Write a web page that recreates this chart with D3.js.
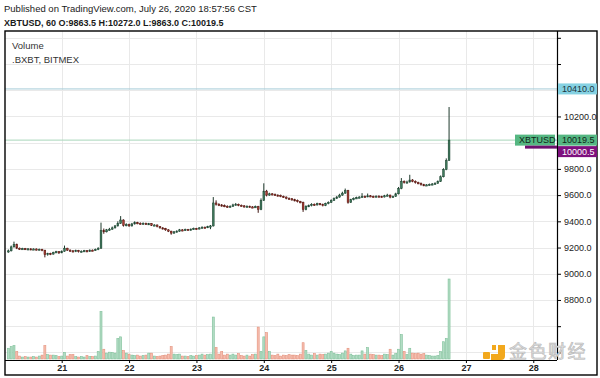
<!DOCTYPE html>
<html>
<head>
<meta charset="utf-8">
<script src="https://cdn.jsdelivr.net/npm/d3@7"></script>
<style>
  body { margin: 0; background: #fff; }
  svg text { font-family: "Liberation Sans", Arial, sans-serif; }
</style>
</head>
<body>
<div id="chart"></div>
<script>
// XBTUSD 1h candles, Jul 20 05:00 -> Jul 26 18:00
var firstOpen = 9170;
var closes = [9175,9205,9225,9195,9190,9192,9188,9190,9186,9189,9185,9187,9180,9145,9155,9150,9162,9168,9160,9172,
  9195,9180,9175,9170,9178,9168,9172,9176,9170,9180,9178,9185,9195,9330,9320,9335,9340,9350,9365,9385,
  9410,9370,9375,9365,9380,9390,9385,9380,9385,9378,9382,9370,9372,9360,9350,9345,9335,9325,9310,9320,
  9325,9335,9330,9338,9335,9340,9345,9342,9350,9355,9352,9360,9365,9540,9530,9525,9520,9515,9510,9515,
  9525,9530,9522,9518,9512,9515,9510,9508,9512,9490,9560,9630,9600,9610,9605,9600,9598,9590,9585,9575,
  9572,9565,9560,9550,9545,9490,9515,9520,9530,9525,9535,9530,9520,9535,9545,9560,9575,9585,9600,9615,
  9635,9545,9565,9575,9580,9585,9590,9588,9595,9590,9588,9592,9590,9586,9595,9600,9585,9590,9610,9650,
  9705,9695,9700,9715,9705,9695,9690,9680,9675,9678,9682,9685,9690,9705,9740,9795,9863.5,10019.5];
var highs = [9185,9215,9245,9230,9200,9198,9197,9196,9195,9194,9193,9192,9190,9182,9160,9160,9168,9175,9172,9178,
  9215,9198,9186,9180,9184,9182,9178,9182,9180,9186,9185,9192,9202,9390,9345,9342,9350,9360,9372,9400,
  9440,9415,9385,9382,9388,9400,9396,9392,9392,9390,9388,9386,9378,9376,9364,9356,9350,9340,9328,9326,
  9332,9342,9340,9344,9342,9346,9352,9350,9356,9362,9360,9366,9372,9585,9560,9538,9532,9528,9522,9522,
  9534,9540,9535,9528,9524,9522,9520,9516,9520,9518,9575,9690,9640,9618,9615,9612,9606,9604,9596,9590,
  9582,9578,9572,9566,9556,9550,9522,9528,9538,9536,9542,9540,9535,9542,9552,9568,9582,9594,9610,9626,
  9650,9640,9572,9582,9588,9592,9615,9597,9612,9600,9596,9598,9598,9595,9602,9610,9604,9596,9618,9662,
  9730,9712,9710,9755,9722,9712,9702,9696,9686,9684,9688,9692,9698,9712,9750,9805,9880,10272];
var lows = [9160,9170,9200,9188,9182,9184,9181,9182,9180,9181,9178,9180,9172,9125,9138,9142,9146,9158,9152,9156,
  9168,9174,9168,9163,9165,9162,9163,9167,9164,9166,9172,9174,9180,9190,9305,9315,9328,9335,9345,9360,
  9380,9360,9362,9358,9360,9375,9378,9374,9375,9372,9372,9364,9365,9354,9344,9338,9328,9318,9298,9305,
  9315,9320,9324,9326,9329,9330,9335,9336,9338,9345,9346,9348,9340,9360,9520,9516,9512,9508,9503,9505,
  9510,9520,9515,9512,9505,9506,9503,9500,9502,9465,9485,9555,9590,9595,9598,9594,9590,9584,9578,9568,
  9565,9558,9552,9544,9538,9472,9484,9508,9514,9518,9520,9523,9514,9516,9530,9540,9555,9570,9580,9595,
  9610,9535,9540,9560,9570,9576,9580,9582,9584,9584,9582,9584,9585,9580,9582,9590,9576,9580,9586,9605,
  9645,9688,9690,9695,9698,9688,9683,9672,9668,9670,9672,9676,9680,9686,9700,9735,9790,9863];
var volumes = [11,12.7,13.7,7.7,3,2,2.5,2,2,2.5,2,3,4,13.7,4.5,4,4,3.5,2.5,3,
  6.7,3,4.5,4.5,2.5,2,2.5,2,3.5,2.5,2.5,3,7.7,48.7,10,6,7,6.5,6,21,
  22.7,8.7,6,5,4,3.5,4,3,3.5,4,6,6,3,2.5,3,3.5,4,5,12.7,5,
  4.5,5,3,3,2.5,3.5,3,3.5,4,5,4,4.5,5,43,11.7,5,7.7,4,5,4,
  5,4,5.5,3.5,3,4,3,4.5,5,32.7,7.7,22.7,27,7.7,4,3.5,5,3,4,3.5,
  4.5,4,4,3.5,5,16.7,8.7,5,4,5.5,4,5,4.5,5,6,7.7,6,5,4.5,6,
  8.3,11,5,3.5,4,4,8.3,5,11.7,5,4.5,4,4,3.5,5,4.5,10,4,5.5,10,
  25,7.7,4.5,11,6,5.5,6,5,5.5,4,3.5,3,3,3.5,7.7,17.7,21,82];

var dayTicks = [21, 22, 23, 24, 25, 26, 27, 28];
var priceTicks = [8400, 8600, 8800, 9000, 9200, 9400, 9600, 9800, 10000, 10200, 10400, 10600, 10800];
var priceLabels = [8800, 9000, 9200, 9400, 9600, 9800, 10200];
var highLevel = 10410.0;
var lastPrice = 10019.5;
var indexPrice = 10000.5;

var startTime = Date.UTC(2020, 6, 20, 5);
var candles = closes.map(function (c, i) {
    return {
        t: new Date(startTime + i * 3600000),
        o: i == 0 ? firstOpen : closes[i - 1],
        h: highs[i],
        l: lows[i],
        c: c,
        v: volumes[i]
    };
});

var pane = { left: 5, right: 557, top: 31, bottom: 360 };

var svg = d3.select("#chart")
    .append("svg")
    .attr("width", 600)
    .attr("height", 378);

svg.append("rect").attr("width", 600).attr("height", 378).attr("fill", "#fff");

var x = d3.scaleUtc()
    .domain([new Date(Date.UTC(2020, 6, 20, 3, 48)), new Date(Date.UTC(2020, 6, 28, 8, 27))])
    .range([pane.left, pane.right]);

var y = d3.scaleLinear()
    .domain([8342, 10852])
    .range([pane.bottom, pane.top]);

var yVol = d3.scaleLinear()
    .domain([0, d3.max(volumes)])
    .range([pane.bottom - 1, 279]);

var dayDates = dayTicks.map(function (d) { return new Date(Date.UTC(2020, 6, d)); });

// header
svg.append("text")
    .attr("x", 4).attr("y", 11.5)
    .attr("font-size", 9.5).attr("fill", "#1a1a1a")
    .text("Published on TradingView.com, July 26, 2020 18:57:56 CST");
svg.append("text")
    .attr("x", 4).attr("y", 25.5)
    .attr("font-size", 9).attr("font-weight", "bold").attr("fill", "#1a1a1a")
    .text("XBTUSD, 60  O:9863.5 H:10272.0 L:9863.0 C:10019.5");

// grid
var grid = svg.append("g");
grid.selectAll(".vg").data(dayDates).enter().append("line")
    .attr("x1", function (d) { return Math.round(x(d)) + 0.5; })
    .attr("x2", function (d) { return Math.round(x(d)) + 0.5; })
    .attr("y1", pane.top).attr("y2", pane.bottom)
    .style("stroke", "#e9e9e9");
grid.selectAll(".hg").data(priceTicks).enter().append("line")
    .attr("x1", pane.left).attr("x2", pane.right)
    .attr("y1", function (d) { return Math.round(y(d)) + 0.5; })
    .attr("y2", function (d) { return Math.round(y(d)) + 0.5; })
    .style("stroke", "#e9e9e9");

// volume
svg.append("g").selectAll("rect").data(candles).enter().append("rect")
    .attr("x", function (d) { return x(d.t) - 1; })
    .attr("width", 2)
    .attr("y", function (d) { return yVol(d.v); })
    .attr("height", function (d) { return yVol(0) - yVol(d.v); })
    .style("fill", function (d) { return d.c >= d.o ? "#b2dcc4" : "#f6bdae"; })
    .style("stroke", function (d) { return d.c >= d.o ? "#7fc09a" : "#e4917c"; })
    .style("stroke-width", 0.6);

// price lines
svg.append("line")
    .attr("x1", pane.left).attr("x2", pane.right)
    .attr("y1", y(highLevel)).attr("y2", y(highLevel))
    .style("stroke", "#a5ccd8").style("stroke-width", 1);
svg.append("line")
    .attr("x1", pane.left).attr("x2", pane.right)
    .attr("y1", y(lastPrice)).attr("y2", y(lastPrice))
    .style("stroke", "#a8d6ba").style("stroke-width", 1);

// candles
var cg = svg.append("g");
cg.selectAll("line").data(candles).enter().append("line")
    .attr("x1", function (d) { return x(d.t); })
    .attr("x2", function (d) { return x(d.t); })
    .attr("y1", function (d) { return y(d.h); })
    .attr("y2", function (d) { return y(d.l); })
    .style("stroke", function (d) { return d.c >= d.o ? "#1f3a2d" : "#3d1410"; })
    .style("stroke-width", 1);
cg.selectAll("rect").data(candles).enter().append("rect")
    .attr("x", function (d) { return x(d.t) - 0.9; })
    .attr("width", 1.8)
    .attr("y", function (d) { return y(Math.max(d.o, d.c)); })
    .attr("height", function (d) { return Math.max(1.2, Math.abs(y(d.o) - y(d.c))); })
    .style("fill", function (d) { return d.c >= d.o ? "#3f7a5c" : "#a83c33"; })
    .style("stroke", function (d) { return d.c >= d.o ? "#1f4432" : "#551812"; })
    .style("stroke-width", 0.5);

// legend
svg.append("text").attr("x", 12).attr("y", 48.5)
    .attr("font-size", 9.5).attr("fill", "#333").text("Volume");
svg.append("text").attr("x", 12).attr("y", 62.5)
    .attr("font-size", 9.5).attr("fill", "#333").text(".BXBT, BITMEX");

// axes
var yAxis = d3.axisRight(y)
    .tickValues(priceTicks)
    .tickSize(4)
    .tickFormat(function (d) { return priceLabels.indexOf(d) >= 0 ? d.toFixed(1) : ""; });
var ya = svg.append("g").attr("transform", "translate(" + pane.right + ",0)").call(yAxis);
ya.select(".domain").remove();
ya.selectAll("text").attr("font-size", 9).attr("fill", "#222").style("font-family", "Liberation Sans, Arial");

var xAxis = d3.axisBottom(x)
    .tickValues(dayDates)
    .tickSize(3)
    .tickFormat(d3.utcFormat("%-d"));
var xa = svg.append("g").attr("transform", "translate(0," + pane.bottom + ")").call(xAxis);
xa.select(".domain").remove();
xa.selectAll("text").attr("font-size", 9).attr("font-weight", "bold").attr("fill", "#222")
    .attr("dy", "0.6em").style("font-family", "Liberation Sans, Arial");

// frame
svg.append("line").attr("x1", pane.right + 0.5).attr("x2", pane.right + 0.5)
    .attr("y1", pane.top).attr("y2", pane.bottom)
    .style("stroke", "#000").style("stroke-width", 1.2);
svg.append("line").attr("x1", pane.left).attr("x2", pane.right)
    .attr("y1", pane.bottom + 0.5).attr("y2", pane.bottom + 0.5)
    .style("stroke", "#000").style("stroke-width", 1.2);
svg.append("rect").attr("x", 5).attr("y", 31).attr("width", 592).attr("height", 344)
    .style("fill", "none").style("stroke", "#000").style("stroke-width", 1.4);

// price labels on axis
function tag(x0, w, yc, hgt, fill, color, label) {
    svg.append("rect").attr("x", x0).attr("y", yc - hgt / 2).attr("width", w).attr("height", hgt)
        .style("fill", fill);
    svg.append("text").attr("x", x0 + 4).attr("y", yc + 3.3)
        .attr("font-size", 9).attr("fill", color).text(label);
}
tag(pane.right + 1, 39, y(highLevel), 11, "#85d1e2", "#1b3640", highLevel.toFixed(1));
tag(pane.right + 1, 39, y(lastPrice), 11, "#55b782", "#10261a", lastPrice.toFixed(1));
tag(515, 40, y(lastPrice), 11, "#55b782", "#10261a", "XBTUSD");
svg.append("rect").attr("x", 525).attr("y", y(lastPrice) + 5.5).attr("width", pane.right - 525).attr("height", 3)
    .style("fill", "#6e0f6e");
tag(pane.right + 1, 39, y(lastPrice) + 11.5, 11, "#7e107e", "#fff", indexPrice.toFixed(1));

// watermark
var wm = svg.append("g");
wm.append("rect").attr("x", 483).attr("y", 352).attr("width", 7).attr("height", 7).attr("rx", 1).style("fill", "#f2a81d");
wm.append("path").attr("d", "M498,345 H505 V356 Q505,360 501,360 H491 V354 H498 Z").style("fill", "#f2a81d");
wm.append("rect").attr("x", 492).attr("y", 345).attr("width", 4).attr("height", 5).style("fill", "#f2a81d");
wm.append("text").attr("x", 509).attr("y", 358)
    .attr("font-size", 18).attr("letter-spacing", 1.5)
    .style("font-family", "Noto Sans CJK SC")
    .attr("fill", "#dedede").attr("stroke", "#b8b8b8").attr("stroke-width", 0.6)
    .text("金色财经");
</script>
</body>
</html>
